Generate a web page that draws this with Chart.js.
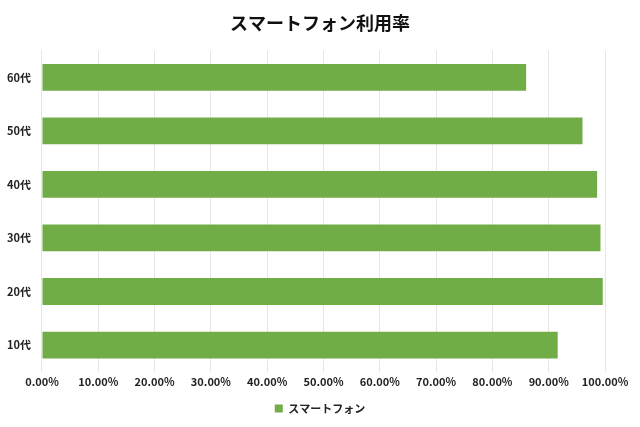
<!DOCTYPE html>
<html>
<head>
<meta charset="utf-8">
<script src="https://cdn.jsdelivr.net/npm/chart.js@4/dist/chart.umd.min.js"></script>
<style>
  html, body { margin: 0; padding: 0; background: #fff; }
  #wrap { width: 640px; height: 427px; }
</style>
</head>
<body>
<div id="wrap"><canvas id="chart"></canvas></div>
<script>
const ageGroups = ["60代", "50代", "40代", "30代", "20代", "10代"];
const smartphoneRate = [86.0, 96.0, 98.6, 99.2, 99.6, 91.6];
const seriesName = "スマートフォン";
const chartTitle = "スマートフォン利用率";

const font = "'Noto Sans CJK JP', 'Noto Sans', sans-serif";
Chart.defaults.font.family = font;
Chart.defaults.color = "#222";

const ctx = document.getElementById("chart").getContext("2d");

new Chart(ctx, {
  type: "bar",
  data: {
    labels: ageGroups,
    datasets: [{
      label: seriesName,
      data: smartphoneRate,
      backgroundColor: "#70AD47",
      borderWidth: 0,
      categoryPercentage: 1,
      barPercentage: 0.5
    }]
  },
  options: {
    indexAxis: "y",
    responsive: true,
    maintainAspectRatio: false,
    animation: false,
    layout: { padding: { left: 4, right: 4, top: 8, bottom: 3 } },
    plugins: {
      title: {
        display: true,
        text: chartTitle,
        font: { size: 18, weight: "bold" },
        color: "#111",
        padding: { top: 4, bottom: 17 }
      },
      legend: {
        position: "bottom",
        labels: {
          boxWidth: 8,
          boxHeight: 8,
          padding: 12,
          font: { size: 11, weight: "bold" }
        }
      },
      tooltip: { enabled: false }
    },
    scales: {
      x: {
        min: 0,
        max: 100,
        afterFit: s => { s.paddingRight = 35; },
        ticks: {
          stepSize: 10,
          font: { size: 11, weight: "bold" },
          callback: v => v.toFixed(2) + "%"
        },
        grid: { color: "#e6e6e6", drawTicks: false },
        border: { display: false }
      },
      y: {
        ticks: { font: { size: 11, weight: "bold" } },
        grid: { display: false },
        border: { display: true, color: "#e6e6e6" }
      }
    }
  }
});
</script>
</body>
</html>
